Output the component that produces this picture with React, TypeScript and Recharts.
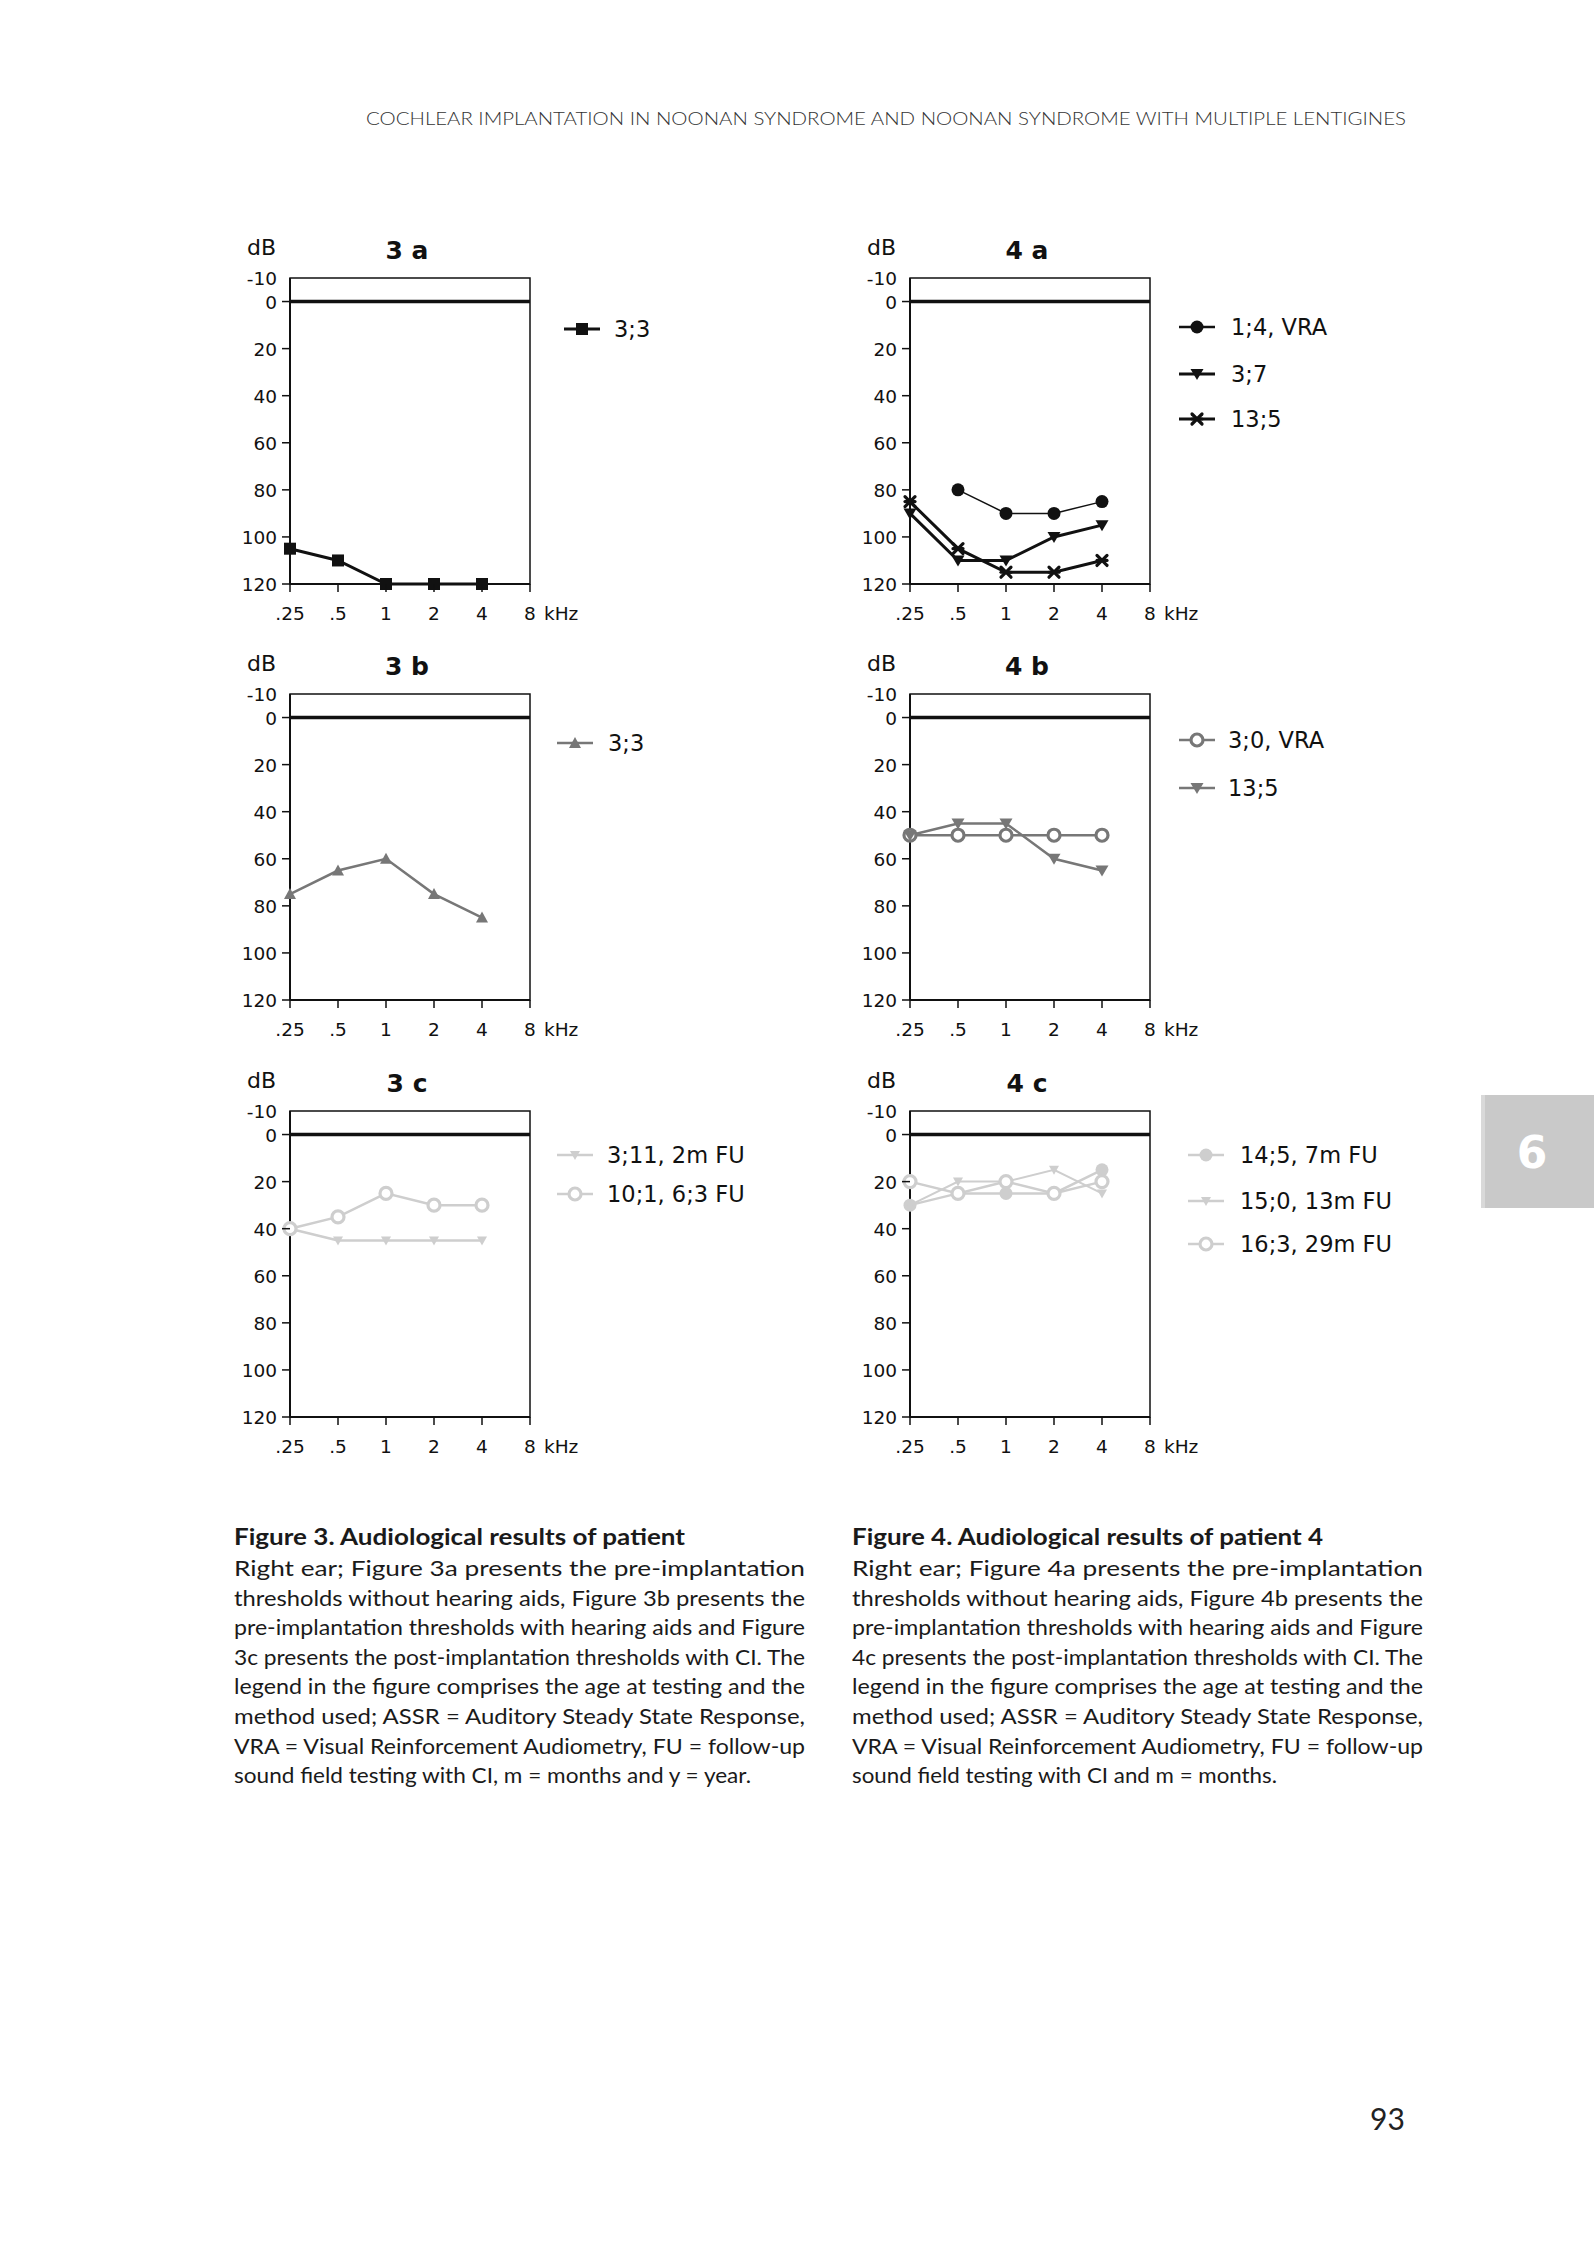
import React from 'react';
import { LineChart, Line, XAxis, YAxis, ReferenceLine, ReferenceArea } from 'recharts';

// frequencies are drawn on octave steps: .25 .5 1 2 4 8 kHz
const FREQ_LABELS = ['.25', '.5', '1', '2', '4', '8'];
const FREQ_STEPS = [0, 1, 2, 3, 4, 5];
const DB_TICKS = [-10, 0, 20, 40, 60, 80, 100, 120];

// figure 3
const F3A_LABELS = ['3;3'];
const F3A_33 = [105, 110, 120, 120, 120];
const F3B_LABELS = ['3;3'];
const F3B_33 = [75, 65, 60, 75, 85];
const F3C_LABELS = ['3;11, 2m FU', '10;1, 6;3 FU'];
const F3C_311 = [40, 45, 45, 45, 45];
const F3C_101 = [40, 35, 25, 30, 30];

// figure 4
const F4A_LABELS = ['1;4, VRA', '3;7', '13;5'];
const F4A_14 = [null, 80, 90, 90, 85];
const F4A_37 = [90, 110, 110, 100, 95];
const F4A_135 = [85, 105, 115, 115, 110];
const F4B_LABELS = ['3;0, VRA', '13;5'];
const F4B_30 = [50, 50, 50, 50, 50];
const F4B_135 = [50, 45, 45, 60, 65];
const F4C_LABELS = ['14;5, 7m FU', '15;0, 13m FU', '16;3, 29m FU'];
const F4C_145 = [30, 25, 25, 25, 15];
const F4C_150 = [30, 20, 20, 15, 25];
const F4C_163 = [20, 25, 20, 25, 20];

const HEADER = 'COCHLEAR IMPLANTATION IN NOONAN SYNDROME AND NOONAN SYNDROME WITH MULTIPLE LENTIGINES';
const CAPTION_3_TITLE = 'Figure 3. Audiological results of patient';
const CAPTION_3 = [
  'Right ear; Figure 3a presents the pre-implantation',
  'thresholds without hearing aids, Figure 3b presents the',
  'pre-implantation thresholds with hearing aids and Figure',
  '3c presents the post-implantation thresholds with CI. The',
  'legend in the figure comprises the age at testing and the',
  'method used; ASSR = Auditory Steady State Response,',
  'VRA = Visual Reinforcement Audiometry, FU = follow-up',
  'sound field testing with CI, m = months and y = year.',
];
const CAPTION_4_TITLE = 'Figure 4. Audiological results of patient 4';
const CAPTION_4 = [
  'Right ear; Figure 4a presents the pre-implantation',
  'thresholds without hearing aids, Figure 4b presents the',
  'pre-implantation thresholds with hearing aids and Figure',
  '4c presents the post-implantation thresholds with CI. The',
  'legend in the figure comprises the age at testing and the',
  'method used; ASSR = Auditory Steady State Response,',
  'VRA = Visual Reinforcement Audiometry, FU = follow-up',
  'sound field testing with CI and m = months.',
];

const BLACK = '#111';
const GREY = '#777';
const LIGHT = '#cecece';
const CHART_FONT = '"DejaVu Sans", sans-serif';
const TEXT_FONT = 'Lato, sans-serif';

const PLOT_W = 240;
const PLOT_H = 306;
const AX_W = 70;
const PAD_T = 12;
const PAD_R = 70;
const AX_H = 40;

function Marker({ kind, cx, cy, color }: any) {
  switch (kind) {
    case 'square':
      return <rect x={cx - 6} y={cy - 6} width={12} height={12} fill={color} />;
    case 'circle':
      return <circle cx={cx} cy={cy} r={6.5} fill={color} />;
    case 'ring':
      return <circle cx={cx} cy={cy} r={6} fill="#fff" stroke={color} strokeWidth={3.2} />;
    case 'down':
      return <polygon points={`${cx - 6.5},${cy - 5} ${cx + 6.5},${cy - 5} ${cx},${cy + 6}`} fill={color} />;
    case 'downSmall':
      return <polygon points={`${cx - 5},${cy - 4} ${cx + 5},${cy - 4} ${cx},${cy + 5}`} fill={color} />;
    case 'up':
      return <polygon points={`${cx - 6},${cy + 5} ${cx + 6},${cy + 5} ${cx},${cy - 6}`} fill={color} />;
    case 'star':
      return (
        <g stroke={color} strokeWidth={3.2} strokeLinecap="round">
          <line x1={cx - 5} y1={cy - 5} x2={cx + 5} y2={cy + 5} />
          <line x1={cx - 5} y1={cy + 5} x2={cx + 5} y2={cy - 5} />
          <line x1={cx - 5} y1={cy} x2={cx + 5} y2={cy} />
        </g>
      );
    default:
      return null;
  }
}

function YTick({ x, y, payload }: any) {
  return (
    <g>
      {payload.value !== -10 && <line x1={x + 5} x2={x + 13} y1={y} y2={y} stroke={BLACK} strokeWidth={1.5} />}
      <text x={x} y={y} dy={7} textAnchor="end" fontSize={18.5} fontFamily={CHART_FONT} fill={BLACK}>
        {payload.value}
      </text>
    </g>
  );
}

function XTick({ x, y, payload }: any) {
  return (
    <g>
      <line x1={x} x2={x} y1={y - 13} y2={y - 5} stroke={BLACK} strokeWidth={1.5} />
      <text x={x} y={y + 23} textAnchor="middle" fontSize={18.5} fontFamily={CHART_FONT} fill={BLACK}>
        {FREQ_LABELS[payload.value]}
      </text>
      {payload.value === 5 && (
        <text x={x + 14} y={y + 23} textAnchor="start" fontSize={18.5} fontFamily={CHART_FONT} fill={BLACK}>
          kHz
        </text>
      )}
    </g>
  );
}

function rowsFrom(series: any[]) {
  return FREQ_STEPS.slice(0, 5).map((f, i) => {
    const row: any = { f };
    series.forEach((s, j) => (row['s' + j] = s.values[i]));
    return row;
  });
}

function Audiogram({ left, top, title, series, legend }: any) {
  const data = rowsFrom(series);
  return (
    <>
      <div
        style={{
          position: 'absolute', left: left - 43, top: top - 31, transform: 'translateY(-50%)',
          fontFamily: CHART_FONT, fontSize: 22, color: BLACK,
        }}
      >
        dB
      </div>
      <div
        style={{
          position: 'absolute', left: left + 117, top: top - 28, transform: 'translate(-50%, -50%)',
          fontFamily: CHART_FONT, fontSize: 25, fontWeight: 'bold', color: BLACK, whiteSpace: 'pre',
        }}
      >
        {title}
      </div>
      <div style={{ position: 'absolute', left: left - AX_W, top: top - PAD_T }}>
        <LineChart
          width={AX_W + PLOT_W + PAD_R}
          height={PAD_T + PLOT_H + AX_H}
          data={data}
          margin={{ top: PAD_T, right: PAD_R, left: 0, bottom: 0 }}
        >
          <XAxis
            dataKey="f"
            type="number"
            domain={[0, 5]}
            ticks={FREQ_STEPS}
            height={AX_H}
            tickSize={8}
            tickMargin={5}
            tickLine={false}
            tick={<XTick />}
            axisLine={{ stroke: BLACK, strokeWidth: 2 }}
          />
          <YAxis
            type="number"
            reversed
            domain={[-10, 120]}
            ticks={DB_TICKS}
            width={AX_W}
            tickSize={8}
            tickMargin={5}
            tickLine={false}
            tick={<YTick />}
            axisLine={{ stroke: BLACK, strokeWidth: 2 }}
          />
          <ReferenceArea x1={0} x2={5} y1={-10} y2={120} fill="none" stroke={BLACK} strokeWidth={1.5} />
          <ReferenceLine y={0} stroke={BLACK} strokeWidth={3.5} />
          {series.map((s: any, j: number) => (
            <Line
              key={s.label}
              dataKey={'s' + j}
              type="linear"
              stroke={s.color}
              strokeWidth={s.width}
              isAnimationActive={false}
              activeDot={false}
              dot={(p: any) =>
                p.value == null || p.cy == null ? (
                  <g key={`d${j}-${p.index}`} />
                ) : (
                  <Marker key={`d${j}-${p.index}`} kind={s.marker} cx={p.cx} cy={p.cy} color={s.color} />
                )
              }
            />
          ))}
        </LineChart>
      </div>
      {series.map((s: any, j: number) => (
        <React.Fragment key={'lg' + j}>
          <svg
            width={36}
            height={20}
            style={{ position: 'absolute', left: legend.x, top: legend.ys[j] - 10 }}
          >
            <line x1={0} x2={36} y1={10} y2={10} stroke={s.color} strokeWidth={Math.max(s.width, 2.5)} />
            <Marker kind={s.marker} cx={18} cy={10} color={s.color} />
          </svg>
          <div
            style={{
              position: 'absolute', left: legend.textX, top: legend.ys[j], transform: 'translateY(-50%)',
              fontFamily: CHART_FONT, fontSize: 22.5, color: BLACK, whiteSpace: 'nowrap',
            }}
          >
            {s.label}
          </div>
        </React.Fragment>
      ))}
    </>
  );
}

const PANELS = [
  {
    title: '3 a', left: 290, top: 278,
    legend: { x: 564, textX: 614, ys: [329] },
    series: [{ label: F3A_LABELS[0], values: F3A_33, color: BLACK, width: 3, marker: 'square' }],
  },
  {
    title: '3 b', left: 290, top: 694,
    legend: { x: 557, textX: 608, ys: [743] },
    series: [{ label: F3B_LABELS[0], values: F3B_33, color: GREY, width: 2.5, marker: 'up' }],
  },
  {
    title: '3 c', left: 290, top: 1111,
    legend: { x: 557, textX: 607, ys: [1155, 1194] },
    series: [
      { label: F3C_LABELS[0], values: F3C_311, color: LIGHT, width: 2.5, marker: 'downSmall' },
      { label: F3C_LABELS[1], values: F3C_101, color: LIGHT, width: 2.5, marker: 'ring' },
    ],
  },
  {
    title: '4 a', left: 910, top: 278,
    legend: { x: 1179, textX: 1231, ys: [327, 374, 419] },
    series: [
      { label: F4A_LABELS[0], values: F4A_14, color: BLACK, width: 1.5, marker: 'circle' },
      { label: F4A_LABELS[1], values: F4A_37, color: BLACK, width: 3, marker: 'down' },
      { label: F4A_LABELS[2], values: F4A_135, color: BLACK, width: 3, marker: 'star' },
    ],
  },
  {
    title: '4 b', left: 910, top: 694,
    legend: { x: 1179, textX: 1228, ys: [740, 788] },
    series: [
      { label: F4B_LABELS[0], values: F4B_30, color: GREY, width: 2.5, marker: 'ring' },
      { label: F4B_LABELS[1], values: F4B_135, color: GREY, width: 2.5, marker: 'down' },
    ],
  },
  {
    title: '4 c', left: 910, top: 1111,
    legend: { x: 1188, textX: 1240, ys: [1155, 1201, 1244] },
    series: [
      { label: F4C_LABELS[0], values: F4C_145, color: LIGHT, width: 2.5, marker: 'circle' },
      { label: F4C_LABELS[1], values: F4C_150, color: LIGHT, width: 2, marker: 'downSmall' },
      { label: F4C_LABELS[2], values: F4C_163, color: LIGHT, width: 2.5, marker: 'ring' },
    ],
  },
];

function Caption({ x, title, titleWidth, lines, lastWidth }: any) {
  return (
    <g fontFamily={TEXT_FONT} fill="#1a1a1a">
      <text x={x} y={1545} fontSize={23} fontWeight="bold" textLength={titleWidth} lengthAdjust="spacingAndGlyphs">
        {title}
      </text>
      {lines.map((t: string, i: number) => (
        <text
          key={i}
          x={x}
          y={1576 + i * 29.6}
          fontSize={21}
          textLength={i === lines.length - 1 ? lastWidth : 571}
          lengthAdjust="spacingAndGlyphs"
        >
          {t}
        </text>
      ))}
    </g>
  );
}

function PageText() {
  return (
    <svg width={1594} height={2250} style={{ position: 'absolute', left: 0, top: 0 }}>
      <text
        x={366}
        y={125}
        fontFamily={TEXT_FONT}
        fontSize={18}
        fontWeight={300}
        fill="#333"
        textLength={1040}
        lengthAdjust="spacingAndGlyphs"
      >
        {HEADER}
      </text>
      <Caption x={234} title={CAPTION_3_TITLE} titleWidth={451} lines={CAPTION_3} lastWidth={517} />
      <Caption x={852} title={CAPTION_4_TITLE} titleWidth={471} lines={CAPTION_4} lastWidth={425} />
      <rect x={1481} y={1095} width={113} height={113} fill="#c9c9c9" />
      <rect x={1481} y={1095} width={4} height={113} fill="#d9d9d9" />
      <text x={1532} y={1168} textAnchor="middle" fontFamily={CHART_FONT} fontWeight="bold" fontSize={44} fill="#fff">
        6
      </text>
      <text x={1370} y={2130} fontFamily={TEXT_FONT} fontSize={30} fill="#222">
        93
      </text>
    </svg>
  );
}

export default function App() {
  return (
    <div
      style={{
        position: 'absolute', left: 0, top: 0, width: 1594, height: 2250,
        background: '#fff', overflow: 'hidden',
      }}
    >
      <PageText />
      {PANELS.map((p) => (
        <Audiogram key={p.title} {...p} />
      ))}
    </div>
  );
}
